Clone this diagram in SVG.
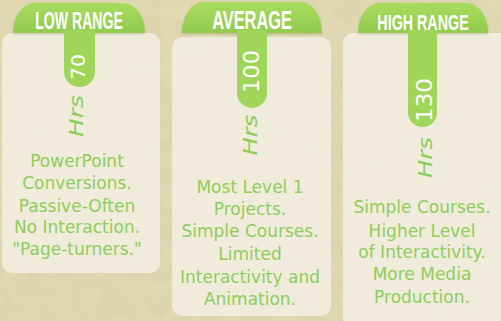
<svg xmlns="http://www.w3.org/2000/svg" width="501" height="321" viewBox="0 0 501 321">
  <defs>
    <linearGradient id="hdr" x1="0" y1="0" x2="0" y2="1">
      <stop offset="0" stop-color="#a8dc5e"/>
      <stop offset="1" stop-color="#92ca4e"/>
    </linearGradient>
    <filter id="tex" x="0" y="0" width="100%" height="100%">
      <feTurbulence type="fractalNoise" baseFrequency="0.05" numOctaves="3" seed="4" result="n"/>
      <feColorMatrix in="n" type="matrix" values="0 0 0 0 0.55  0 0 0 0 0.5  0 0 0 0 0.3  0 0 0 0.35 0"/>
      <feComposite in2="SourceGraphic" operator="in"/>
    </filter>
    <filter id="sh" x="-10%" y="-10%" width="120%" height="130%">
      <feDropShadow dx="0" dy="1" stdDeviation="1" flood-color="#6a7a40" flood-opacity="0.35"/>
    </filter>
  </defs>
  <style>
    .card { fill: #f1eddd; fill-opacity: 0.92; }
    .hdr { fill: url(#hdr); }
    .tab { fill: #9fd65a; }
    .title { font-family: "Liberation Sans", Arial, sans-serif; font-weight: bold; fill: #ffffff; text-anchor: middle; }
    .num { font-family: "DejaVu Sans", sans-serif; fill: #ffffff; text-anchor: middle; }
    .hrs { font-family: "DejaVu Sans", sans-serif; font-style: italic; fill: #8ccc5a; text-anchor: middle; font-size: 20px; }
    .body { font-family: "DejaVu Sans", sans-serif; fill: #8dcd5a; text-anchor: middle; font-size: 17px; }
  </style>
  <rect width="501" height="321" fill="#e4dcb6"/>
  <rect width="501" height="321" fill="#e4dcb6" filter="url(#tex)"/>

  <g id="low-range">
    <rect class="card" x="2" y="33" width="158" height="240" rx="10"/>
    <path class="hdr" filter="url(#sh)" d="M13,33 A22,30 0 0 1 35,3 H123 A22,30 0 0 1 145,33 Z"/>
    <path class="tab" d="M64,30 H95 V71.5 A15.5,15.5 0 0 1 64,71.5 Z"/>
    <text class="title" transform="translate(79,29) scale(0.6,1)" font-size="23.5">LOW RANGE</text>
    <text class="num" transform="translate(85,67) rotate(-90)" font-size="20" textLength="26" lengthAdjust="spacingAndGlyphs">70</text>
    <text class="hrs" transform="translate(83,116) rotate(-90)" textLength="42" lengthAdjust="spacingAndGlyphs">Hrs</text>
    <text class="body"><tspan x="77" y="167">PowerPoint</tspan><tspan x="77" y="189">Conversions.</tspan><tspan x="77" y="212">Passive-Often</tspan><tspan x="77" y="233">No Interaction.</tspan><tspan x="77" y="255">"Page-turners."</tspan></text>
  </g>

  <g id="average">
    <rect class="card" x="172" y="37" width="159" height="279" rx="10"/>
    <path class="hdr" filter="url(#sh)" d="M182,33 A22,31 0 0 1 204,2 H300 A22,31 0 0 1 322,33 Z"/>
    <path class="tab" d="M237,30 H267 V93 A15,15 0 0 1 237,93 Z"/>
    <text class="title" transform="translate(252,29) scale(0.63,1)" font-size="26">AVERAGE</text>
    <text class="num" transform="translate(259,71.5) rotate(-90)" font-size="20.5" textLength="43" lengthAdjust="spacingAndGlyphs">100</text>
    <text class="hrs" transform="translate(257,135) rotate(-90)" textLength="41" lengthAdjust="spacingAndGlyphs">Hrs</text>
    <text class="body"><tspan x="250" y="193">Most Level 1</tspan><tspan x="250" y="215">Projects.</tspan><tspan x="250" y="237">Simple Courses.</tspan><tspan x="250" y="260">Limited</tspan><tspan x="250" y="283">Interactivity and</tspan><tspan x="250" y="305">Animation.</tspan></text>
  </g>

  <g id="high-range">
    <rect class="card" x="343" y="33" width="170" height="300" rx="10"/>
    <path class="hdr" filter="url(#sh)" d="M358,33 A22,30 0 0 1 380,3 H466 A22,30 0 0 1 488,33 Z"/>
    <path class="tab" d="M408,30 H437 V112.5 A14.5,14.5 0 0 1 408,112.5 Z"/>
    <text class="title" transform="translate(423,30) scale(0.65,1)" font-size="22">HIGH RANGE</text>
    <text class="num" transform="translate(432,100) rotate(-90)" font-size="22" textLength="44" lengthAdjust="spacingAndGlyphs">130</text>
    <text class="hrs" transform="translate(432,157.5) rotate(-90)" textLength="41" lengthAdjust="spacingAndGlyphs">Hrs</text>
    <text class="body"><tspan x="422" y="213">Simple Courses.</tspan><tspan x="422" y="237">Higher Level</tspan><tspan x="422" y="258">of Interactivity.</tspan><tspan x="422" y="280">More Media</tspan><tspan x="422" y="303">Production.</tspan></text>
  </g>
</svg>
